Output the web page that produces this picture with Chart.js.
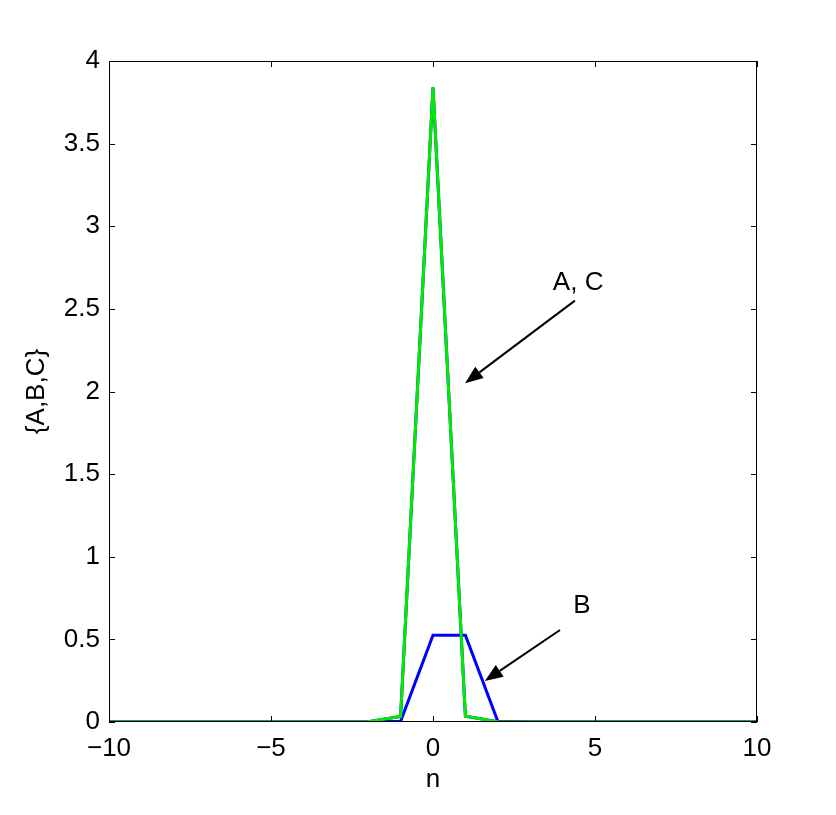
<!DOCTYPE html>
<html>
<head>
<meta charset="utf-8">
<script src="https://cdn.jsdelivr.net/npm/chart.js@4.4.0/dist/chart.umd.min.js"></script>
<style>
  html, body { margin: 0; padding: 0; background: #fff; }
  #wrap { width: 836px; height: 815px; }
</style>
</head>
<body>
<div id="wrap"><canvas id="chart" width="836" height="815"></canvas></div>
<script>
const nValues = [-10, -9, -8, -7, -6, -5, -4, -3, -2, -1, 0, 1, 2, 3, 4, 5, 6, 7, 8, 9, 10];
const seriesA = [0, 0, 0, 0, 0, 0, 0, 0, 0.002, 0.034, 3.84, 0.035, 0.002, 0, 0, 0, 0, 0, 0, 0, 0];
const seriesB = [0, 0, 0, 0, 0, 0, 0, 0, 0, 0.004, 0.525, 0.525, 0.004, 0, 0, 0, 0, 0, 0, 0, 0];
const seriesC = [0, 0, 0, 0, 0, 0, 0, 0, 0.002, 0.034, 3.84, 0.035, 0.002, 0, 0, 0, 0, 0, 0, 0, 0];

// labels with arrows, in data coordinates
const notes = [
    { text: 'A, C', tx: 4.48, ty: 2.66, x0: 4.38, y0: 2.55, x1: 0.99, y1: 2.05 },
    { text: 'B', tx: 4.60, ty: 0.70, x0: 3.92, y0: 0.557, x1: 1.60, y1: 0.248 }
];

const toPoints = (ys) => ys.map((y, i) => ({ x: nValues[i], y }));
const FONT = '"Liberation Sans", Arial, Helvetica, sans-serif';

const boxPlugin = {
    id: 'box',
    afterDatasetsDraw(chart) {
        const { ctx, chartArea: a, scales } = chart;
        ctx.save();
        ctx.strokeStyle = '#000';
        ctx.lineWidth = 1;
        ctx.strokeRect(a.left + 0.5, a.top + 0.5, a.right - a.left - 1, a.bottom - a.top - 1);
        const tl = 6;
        ctx.beginPath();
        scales.x.ticks.forEach(t => {
            const px = Math.round(scales.x.getPixelForValue(t.value)) + 0.5;
            ctx.moveTo(px, a.bottom); ctx.lineTo(px, a.bottom - tl);
            ctx.moveTo(px, a.top); ctx.lineTo(px, a.top + tl);
        });
        scales.y.ticks.forEach(t => {
            const py = Math.round(scales.y.getPixelForValue(t.value)) + 0.5;
            ctx.moveTo(a.left, py); ctx.lineTo(a.left + tl, py);
            ctx.moveTo(a.right, py); ctx.lineTo(a.right - tl, py);
        });
        ctx.stroke();

        // annotations
        ctx.fillStyle = '#000';
        ctx.font = '26px ' + FONT;
        ctx.textAlign = 'center';
        ctx.textBaseline = 'middle';
        notes.forEach(nt => {
            ctx.fillText(nt.text, scales.x.getPixelForValue(nt.tx), scales.y.getPixelForValue(nt.ty));
            const x0 = scales.x.getPixelForValue(nt.x0), y0 = scales.y.getPixelForValue(nt.y0);
            const x1 = scales.x.getPixelForValue(nt.x1), y1 = scales.y.getPixelForValue(nt.y1);
            const ang = Math.atan2(y1 - y0, x1 - x0);
            const hl = 18, hw = 7;
            const bx = x1 - hl * Math.cos(ang), by = y1 - hl * Math.sin(ang);
            ctx.lineWidth = 2;
            ctx.beginPath();
            ctx.moveTo(x0, y0); ctx.lineTo(bx, by);
            ctx.stroke();
            ctx.beginPath();
            ctx.moveTo(x1, y1);
            ctx.lineTo(bx + hw * Math.sin(ang), by - hw * Math.cos(ang));
            ctx.lineTo(bx - hw * Math.sin(ang), by + hw * Math.cos(ang));
            ctx.closePath();
            ctx.fill();
        });
        ctx.restore();
    }
};

new Chart(document.getElementById('chart').getContext('2d'), {
    type: 'line',
    data: {
        datasets: [
            { label: 'A', data: toPoints(seriesA), borderColor: '#0000ff', borderWidth: 3, pointRadius: 0, tension: 0, order: 3 },
            { label: 'B', data: toPoints(seriesB), borderColor: '#0000ff', borderWidth: 3, pointRadius: 0, tension: 0, order: 2 },
            { label: 'C', data: toPoints(seriesC), borderColor: 'rgb(0,235,0)', borderWidth: 3, pointRadius: 0, tension: 0, order: 1 }
        ]
    },
    options: {
        responsive: false,
        animation: false,
        layout: { padding: { left: 0, right: 79, top: 61, bottom: 0 } },
        plugins: { legend: { display: false }, tooltip: { enabled: false } },
        scales: {
            x: {
                type: 'linear',
                min: -10, max: 10,
                grid: { display: false, drawTicks: false },
                border: { display: false },
                ticks: {
                    stepSize: 5,
                    padding: 11,
                    color: '#000',
                    font: { family: FONT, size: 26 },
                    callback: (v) => String(v).replace('-', '\u2212')
                },
                title: { display: true, text: 'n', color: '#000', font: { family: FONT, size: 26 }, padding: { top: 0, bottom: 20 } },
                afterFit: (s) => { s.height = 93; }
            },
            y: {
                min: 0, max: 4,
                grid: { display: false, drawTicks: false },
                border: { display: false },
                ticks: {
                    stepSize: 0.5,
                    padding: 9,
                    color: '#000',
                    font: { family: FONT, size: 26 },
                    callback: (v) => String(v)
                },
                title: { display: true, text: '{A,B,C}', color: '#000', font: { family: FONT, size: 26 }, padding: { top: 21, bottom: 0 } },
                afterFit: (s) => { s.width = 109; }
            }
        }
    },
    plugins: [boxPlugin]
});
</script>
</body>
</html>
